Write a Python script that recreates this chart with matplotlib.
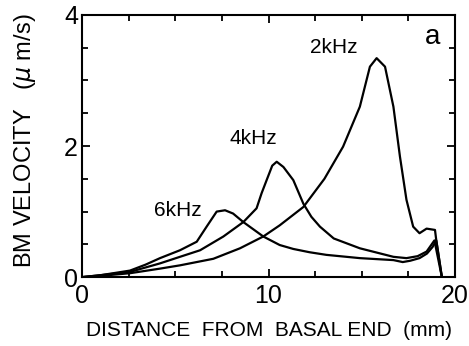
import matplotlib.pyplot as plt
from matplotlib.ticker import MultipleLocator

plt.rcParams['font.family'] = ['Liberation Sans', 'DejaVu Sans']

# valores (distancia em mm, velocidade em um/s)
x_6k = [0, 1.0, 2.57, 3.4, 4.18, 5.25, 6.15, 6.68, 7.22, 7.67, 8.1, 8.65, 9.72, 10.6, 11.33,
        12.2, 13.1, 14.9, 16.7, 17.2, 17.6, 18.1, 18.5, 18.8, 19.0, 19.3]
y_6k = [0, 0.03, 0.1, 0.19, 0.29, 0.41, 0.54, 0.77, 1.0, 1.02, 0.97, 0.84, 0.62, 0.49, 0.43,
        0.38, 0.34, 0.29, 0.26, 0.23, 0.25, 0.29, 0.36, 0.46, 0.56, 0.0]

x_4k = [0, 1.0, 2.57, 4.18, 5.25, 6.33, 7.58, 8.65, 9.36, 9.63, 9.9, 10.2, 10.44, 10.8, 11.33,
        11.87, 12.3, 12.76, 13.5, 14.9, 16.7, 17.4, 18.0, 18.48, 18.9, 19.3]
y_4k = [0, 0.03, 0.08, 0.21, 0.31, 0.41, 0.62, 0.84, 1.05, 1.28, 1.48, 1.7, 1.76, 1.68, 1.48,
        1.12, 0.92, 0.77, 0.59, 0.44, 0.31, 0.29, 0.32, 0.39, 0.56, 0.0]

x_2k = [0, 1.0, 2.57, 4.18, 5.25, 7.04, 8.47, 9.72, 10.6, 11.87, 13.0, 14.0, 14.9, 15.44, 15.8,
        16.25, 16.7, 17.05, 17.4, 17.76, 18.1, 18.48, 18.93, 19.0, 19.3]
y_2k = [0, 0.02, 0.06, 0.13, 0.18, 0.28, 0.44, 0.62, 0.79, 1.07, 1.5, 1.99, 2.6, 3.21, 3.34,
        3.21, 2.6, 1.84, 1.18, 0.77, 0.67, 0.74, 0.72, 0.56, 0.0]

rotulos = ['6kHz', '4kHz', '2kHz']
pos_rotulos = [(5.15, 1.02), (9.2, 2.12), (13.5, 3.5)]

fig = plt.figure(figsize=(4.69, 3.46), dpi=100)
ax = fig.add_axes([0.175, 0.199, 0.795, 0.758])

for xs, ys in [(x_6k, y_6k), (x_4k, y_4k), (x_2k, y_2k)]:
    ax.plot(xs, ys, color='black', lw=1.6)

for txt, (tx, ty) in zip(rotulos, pos_rotulos):
    ax.text(tx, ty, txt, fontsize=15, ha='center', va='center')
ax.text(18.8, 3.66, 'a', fontsize=20, ha='center', va='center')

ax.set_xlim(0, 20)
ax.set_ylim(0, 4)
ax.xaxis.set_major_locator(MultipleLocator(10))
ax.xaxis.set_minor_locator(MultipleLocator(2.5))
ax.yaxis.set_major_locator(MultipleLocator(2))
ax.yaxis.set_minor_locator(MultipleLocator(0.5))
ax.tick_params(which='both', direction='in', top=True, right=True, width=1.3)
ax.tick_params(which='major', length=6, labelsize=18)
ax.tick_params(which='minor', length=4)
ax.tick_params(axis='x', which='major', pad=5)
ax.tick_params(axis='y', which='major', pad=3)
for s in ax.spines.values():
    s.set_linewidth(1.5)

ax.set_xlabel('DISTANCE  FROM  BASAL END  (mm)', fontsize=15, labelpad=9)
ax.set_ylabel('BM VELOCITY   ($\\mu$ m/s)', fontsize=17)
ax.yaxis.set_label_coords(-0.118, 0.52)

fig.savefig('out.png', dpi=100)
